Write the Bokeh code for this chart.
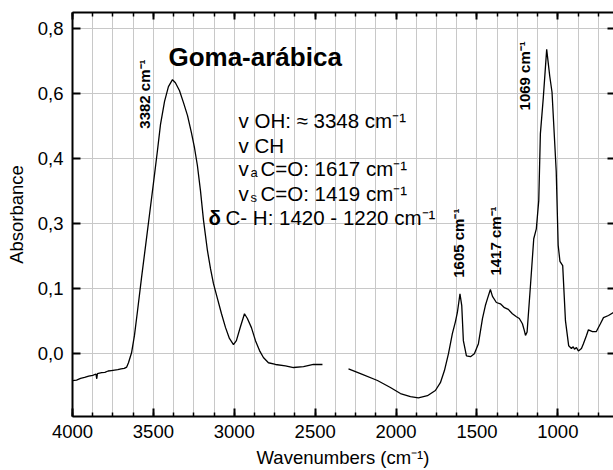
from math import pi
from bokeh.plotting import figure
from bokeh.models import (Range1d, LinearAxis, SingleIntervalTicker, FixedTicker, Label,
                          CustomJSTickFormatter)
from bokeh.embed import file_html
from bokeh.resources import INLINE

# ---- data: FTIR spectrum of Goma-arábica (two segments, gap ~2450-2300 cm-1)
wn_a = [4000, 3975, 3950, 3925, 3900, 3875, 3855, 3850, 3846, 3820, 3800, 3780, 3760, 3740,
        3720, 3700, 3680, 3665, 3654, 3635, 3617, 3598, 3574, 3549, 3524, 3499, 3475, 3456,
        3431, 3407, 3382, 3364, 3339, 3314, 3289, 3265, 3246, 3228, 3209, 3190, 3166, 3147,
        3129, 3104, 3079, 3054, 3030, 3005, 2987, 2962, 2937, 2919, 2894, 2869, 2844, 2820,
        2789, 2745, 2684, 2634, 2572, 2511, 2455]
ab_a = [-0.062, -0.061, -0.057, -0.055, -0.052, -0.050, -0.047, -0.058, -0.046, -0.044,
        -0.043, -0.040, -0.039, -0.038, -0.037, -0.035, -0.034, -0.031, -0.021, 0.002,
        0.042, 0.099, 0.173, 0.247, 0.321, 0.395, 0.468, 0.529, 0.582, 0.616, 0.632, 0.625,
        0.607, 0.579, 0.549, 0.510, 0.475, 0.434, 0.376, 0.307, 0.238, 0.196, 0.162, 0.127,
        0.092, 0.060, 0.035, 0.021, 0.030, 0.062, 0.092, 0.081, 0.060, 0.030, 0.007, -0.009,
        -0.021, -0.025, -0.028, -0.032, -0.030, -0.025, -0.025]

wn_b = [2294, 2220, 2115, 2035, 1973, 1911, 1862, 1806, 1757, 1726, 1701, 1676, 1652, 1633,
        1621, 1605, 1594, 1584, 1565, 1540, 1516, 1491, 1466, 1448, 1435, 1417, 1404, 1380,
        1355, 1330, 1306, 1281, 1256, 1238, 1219, 1207, 1200, 1190, 1170, 1149, 1133, 1118,
        1108, 1090, 1069, 1050, 1036, 1010, 998, 987, 970, 953, 933, 916, 905, 897, 885, 873,
        854, 842, 823, 811, 786, 762, 737, 718, 687, 656]
ab_b = [-0.035, -0.046, -0.062, -0.078, -0.092, -0.099, -0.102, -0.097, -0.085, -0.067,
        -0.039, 0.000, 0.046, 0.074, 0.095, 0.138, 0.111, 0.030, -0.005, -0.007, 0.000,
        0.023, 0.081, 0.111, 0.127, 0.148, 0.132, 0.118, 0.115, 0.106, 0.102, 0.092, 0.085,
        0.081, 0.069, 0.053, 0.042, 0.050, 0.153, 0.265, 0.288, 0.353, 0.507, 0.590, 0.702,
        0.640, 0.603, 0.420, 0.250, 0.213, 0.203, 0.076, 0.018, 0.012, 0.016, 0.010, 0.014,
        0.006, 0.012, 0.023, 0.042, 0.055, 0.051, 0.051, 0.069, 0.083, 0.088, 0.095]

y_ticks = [0.0, 0.15, 0.30, 0.45, 0.60, 0.75]
y_tick_labels = ["0,0", "0,1", "0,3", "0,4", "0,6", "0,8"]

FONT = "Liberation Sans"
GRID = "#c8c8c8"

p = figure(width=613, height=470,
           x_range=Range1d(4000, 656), y_range=Range1d(-0.145, 0.787),
           output_backend="svg", toolbar_location=None,
           min_border_left=72, min_border_right=0, min_border_top=12, min_border_bottom=54)
p.outline_line_color = None
p.background_fill_color = "white"

xt = SingleIntervalTicker(interval=500, num_minor_ticks=4)
yt = FixedTicker(ticks=y_ticks)

p.xaxis.ticker = xt
p.yaxis.ticker = yt
p.yaxis.major_label_overrides = {t: l for t, l in zip(y_ticks, y_tick_labels)}

p.xgrid.grid_line_color = GRID
p.xgrid.minor_grid_line_color = GRID
p.ygrid.grid_line_color = GRID

for ax in (p.xaxis[0], p.yaxis[0]):
    ax.axis_line_width = 2
    ax.axis_line_color = "black"
    ax.major_tick_in = 8
    ax.major_tick_out = 0
    ax.major_tick_line_width = 2
    ax.minor_tick_in = 4
    ax.minor_tick_out = 0
    ax.minor_tick_line_width = 1.5
    ax.major_label_text_font = FONT
    ax.major_label_text_font_size = "18.5px"
    ax.major_label_text_color = "black"
    ax.axis_label_text_font = FONT
    ax.axis_label_text_font_size = "18.5px"
    ax.axis_label_text_font_style = "normal"
    ax.axis_label_text_color = "black"

p.yaxis.minor_tick_line_color = None
p.yaxis.major_label_standoff = 9
p.xaxis.major_label_standoff = 8
p.yaxis.axis_label = "Absorbance"
p.xaxis.axis_label = "Wavenumbers (cm\u207b\u00b9)"
p.yaxis.axis_label_standoff = 8
p.xaxis.axis_label_standoff = 6

blank = CustomJSTickFormatter(code="return ''")
top = LinearAxis(ticker=xt, formatter=blank, axis_line_width=2, major_tick_in=7,
                 major_tick_out=0, major_tick_line_width=2, minor_tick_in=4,
                 minor_tick_out=0, minor_tick_line_width=1.5, major_label_standoff=0)
p.add_layout(top, "above")
right = LinearAxis(ticker=yt, formatter=blank, axis_line_color=None, major_tick_in=6,
                   major_tick_out=0, major_tick_line_width=2, minor_tick_line_color=None,
                   major_label_standoff=0)
p.add_layout(right, "right")

p.line(wn_a, ab_a, line_color="black", line_width=1.3)
p.line(wn_b, ab_b, line_color="black", line_width=1.3)

def lab(x, y, text, size="20.5px", style="normal", angle=0.0):
    p.add_layout(Label(x=x, y=y, text=text, text_font=FONT, text_font_size=size,
                       text_font_style=style, text_color="black", angle=angle,
                       text_align="left", text_baseline="alphabetic"))

lab(3407, 0.684, "Goma-arábica", size="26px", style="bold")

lab(2974, 0.538, "v OH: \u2248 3348 cm\u207b\u00b9")
lab(2974, 0.480, "v CH")
lab(2974, 0.427, "v")
lab(2900, 0.418, "a", size="13px")
lab(2838, 0.427, "C=O: 1617 cm\u207b\u00b9")
lab(2974, 0.369, "v")
lab(2900, 0.360, "s", size="13px")
lab(2838, 0.369, "C=O: 1419 cm\u207b\u00b9")
lab(3160, 0.314, "\u03b4", style="bold")
lab(3054, 0.314, "C- H: 1420 - 1220 cm\u207b\u00b9")

lab(3555, 0.519, "3382 cm\u207b\u00b9", size="15px", style="bold", angle=pi / 2)
lab(1615, 0.175, "1605 cm\u207b\u00b9", size="15px", style="bold", angle=pi / 2)
lab(1386, 0.180, "1417 cm\u207b\u00b9", size="15px", style="bold", angle=pi / 2)
lab(1207, 0.561, "1069 cm\u207b\u00b9", size="15px", style="bold", angle=pi / 2)

open("out.html", "w").write(file_html(p, INLINE))
